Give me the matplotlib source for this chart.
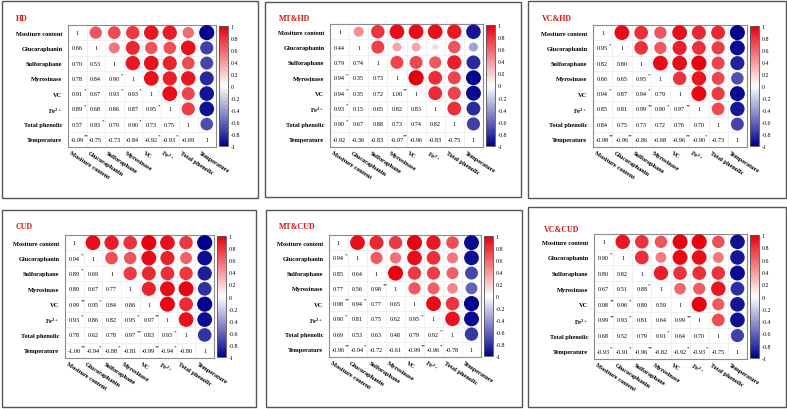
import numpy as np
import matplotlib.pyplot as plt
import matplotlib.cm as cm
from matplotlib.colors import LinearSegmentedColormap, Normalize
from matplotlib.patches import Rectangle

plt.rcParams['font.family'] = ['Liberation Serif', 'DejaVu Serif']
plt.rcParams['mathtext.fontset'] = 'custom'
plt.rcParams['mathtext.rm'] = 'Liberation Serif'
plt.rcParams['mathtext.it'] = 'Liberation Serif:italic'
plt.rcParams['mathtext.bf'] = 'Liberation Serif:bold'

variables = ['Mositure content', 'Glucoraphanin', 'Sulforaphane', 'Myrosinase',
             'VC', 'Fe$^{\\mathbf{2+}}$', 'Total phenolic', 'Temperature']
titles = ['HD', 'MT&HD', 'VC&HD', 'CUD', 'MT&CUD', 'VC&CUD']

# lower triangle, rows 2..8 (row i has i values)
hd_r = [[0.66],
        [0.70, 0.53],
        [0.78, 0.84, 0.90],
        [0.91, 0.67, 0.93, 0.93],
        [0.89, 0.68, 0.86, 0.87, 0.95],
        [0.57, 0.93, 0.70, 0.90, 0.73, 0.75],
        [-0.99, -0.75, -0.73, -0.84, -0.92, -0.93, -0.69]]
hd_sig = [[''],
          ['', ''],
          ['', '', '*'],
          ['*', '', '*', '*'],
          ['*', '', '', '', '*'],
          ['', '*', '', '*', '', ''],
          ['**', '', '', '', '*', '*', '']]

mthd_r = [[0.44],
          [0.79, 0.74],
          [0.94, 0.35, 0.73],
          [0.94, 0.35, 0.72, 1.00],
          [0.93, 0.15, 0.65, 0.82, 0.83],
          [0.90, 0.67, 0.88, 0.73, 0.74, 0.82],
          [-0.92, -0.36, -0.83, -0.97, -0.96, -0.83, -0.75]]
mthd_sig = [[''],
            ['', ''],
            ['*', '', ''],
            ['*', '', '', '**'],
            ['*', '', '', '', ''],
            ['*', '', '', '', '', ''],
            ['', '', '', '**', '', '', '']]

vchd_r = [[0.95],
          [0.82, 0.80],
          [0.66, 0.65, 0.95],
          [0.94, 0.87, 0.94, 0.79],
          [0.85, 0.81, 0.99, 0.90, 0.97],
          [0.84, 0.75, 0.73, 0.72, 0.76, 0.70],
          [-0.98, -0.96, -0.86, -0.68, -0.96, -0.90, -0.73]]
vchd_sig = [['*'],
            ['', ''],
            ['', '', '*'],
            ['*', '', '*', ''],
            ['', '', '**', '*', '**'],
            ['', '', '', '', '', ''],
            ['**', '**', '', '', '**', '*', '']]

cud_r = [[0.94],
         [0.89, 0.69],
         [0.80, 0.67, 0.77],
         [0.99, 0.95, 0.84, 0.86],
         [0.93, 0.86, 0.82, 0.95, 0.97],
         [0.78, 0.62, 0.78, 0.97, 0.83, 0.93],
         [-1.00, -0.94, -0.88, -0.81, -0.99, -0.94, -0.80]]
cud_sig = [['*'],
           ['*', ''],
           ['', '', ''],
           ['**', '*', '', ''],
           ['*', '', '', '*', '**'],
           ['', '', '', '**', '', '*'],
           ['**', '*', '*', '', '**', '*', '']]

mtcud_r = [[0.94],
           [0.85, 0.64],
           [0.77, 0.56, 0.98],
           [0.98, 0.94, 0.77, 0.65],
           [0.90, 0.81, 0.75, 0.62, 0.95],
           [0.69, 0.53, 0.63, 0.48, 0.79, 0.92],
           [-0.96, -0.94, -0.72, -0.61, -0.99, -0.96, -0.78]]
mtcud_sig = [['*'],
             ['', ''],
             ['', '', '**'],
             ['**', '*', '', ''],
             ['*', '', '', '', '*'],
             ['', '', '', '', '', '*'],
             ['**', '*', '', '', '**', '*', '']]

vccud_r = [[0.90],
           [0.80, 0.82],
           [0.67, 0.51, 0.88],
           [0.98, 0.96, 0.80, 0.59],
           [0.99, 0.93, 0.81, 0.64, 0.99],
           [0.68, 0.52, 0.79, 0.91, 0.64, 0.70],
           [-0.93, -0.91, -0.96, -0.82, -0.92, -0.93, -0.75]]
vccud_sig = [['*'],
             ['', ''],
             ['', '', '*'],
             ['**', '*', '', ''],
             ['**', '*', '', '', '**'],
             ['', '', '', '*', '', ''],
             ['*', '*', '**', '', '*', '*', '']]

all_r = [hd_r, mthd_r, vchd_r, cud_r, mtcud_r, vccud_r]
all_sig = [hd_sig, mthd_sig, vchd_sig, cud_sig, mtcud_sig, vccud_sig]

# layout in pixels (left, top, right, bottom)
panel_px = [(2, 2, 258, 199), (265, 3, 521, 198), (528, 2, 786, 199),
            (2, 211, 256, 408), (266, 211, 522, 408), (528, 208, 786, 408)]
matrix_px = [(68, 26, 216, 148), (330, 25, 483, 148), (593, 26, 747, 148),
             (65, 236, 214, 359), (329, 236, 481, 358), (594, 235, 747, 360)]
title_px = [(16, 19), (279, 19), (542, 19), (16, 227), (279, 227), (544, 230)]

W, H = 787, 410
fig = plt.figure(figsize=(W / 100, H / 100), dpi=100)

cmap = LinearSegmentedColormap.from_list('bwr2', ['#00008C', '#FFFFFF', '#E6000C'])
norm = Normalize(-1, 1)


def px_rect(l, t, r, b):
    return [l / W, 1 - b / H, (r - l) / W, (b - t) / H]


def full_matrix(lower):
    n = len(lower) + 1
    m = np.eye(n)
    for i, row in enumerate(lower):
        for j, v in enumerate(row):
            m[i + 1, j] = v
            m[j, i + 1] = v
    return m


for k in range(6):
    l, t, r, b = panel_px[k]
    fig.patches.append(Rectangle((l / W, 1 - b / H), (r - l) / W, (b - t) / H,
                                 transform=fig.transFigure, fill=False,
                                 edgecolor='#555555', linewidth=1.0))
    tx, ty = title_px[k]
    fig.text(tx / W, 1 - ty / H, titles[k], color='#D7191C', fontsize=5.8,
             fontweight='bold', ha='left', va='center')

    m = full_matrix(all_r[k])
    n = m.shape[0]
    ax = fig.add_axes(px_rect(*matrix_px[k]))
    ax.set_xlim(-0.5, n - 0.5)
    ax.set_ylim(n - 0.5, -0.5)
    ax.set_xticks(np.arange(n + 1) - 0.5, minor=True)
    ax.set_yticks(np.arange(n + 1) - 0.5, minor=True)
    ax.grid(which='minor', color='#E6E6E6', linewidth=0.4)
    ax.set_xticks([])
    ax.set_yticks(np.arange(n))
    ax.set_yticklabels(variables, fontsize=4.6, fontweight='bold')
    ax.tick_params(axis='y', length=0, pad=4)
    ax.tick_params(which='minor', length=0)
    for s in ax.spines.values():
        s.set_color('#8C8C8C')
        s.set_linewidth(0.8)

    # upper triangle circles
    xs, ys, vs = [], [], []
    for i in range(n):
        for j in range(i + 1, n):
            xs.append(j)
            ys.append(i)
            vs.append(m[i, j])
    vs = np.array(vs)
    ax.scatter(xs, ys, s=120 * np.abs(vs), c=vs, cmap=cmap, norm=norm,
               linewidths=0, zorder=3)

    # lower triangle numbers
    sig = all_sig[k]
    for i in range(n):
        ax.text(i, i, '1', ha='center', va='center', fontsize=4.5)
        if i == 0:
            continue
        for j in range(i):
            v = m[i, j]
            ax.text(j, i, '%.2f' % v, ha='center', va='center', fontsize=4.5)
            st = sig[i - 1][j]
            if st:
                ax.text(j + 0.33, i - 0.25, st, ha='left', va='center',
                        fontsize=3.6)

    # rotated column labels
    for j in range(n):
        ax.text(j - 0.42, n - 0.5 + 0.3, variables[j], rotation=-33,
                rotation_mode='anchor', ha='left', va='center',
                fontsize=4.6, fontweight='bold')

    # colorbar
    ml, mt, mr, mb = matrix_px[k]
    cax = fig.add_axes(px_rect(mr + 3, mt + 1, mr + 12, mb - 1))
    cb = fig.colorbar(cm.ScalarMappable(norm=norm, cmap=cmap), cax=cax,
                      ticks=np.linspace(-1, 1, 11))
    cb.ax.set_yticklabels(['-1', '-0.8', '-0.6', '-0.4', '-0.2', '0',
                           '0.2', '0.4', '0.6', '0.8', '1'])
    cb.ax.tick_params(labelsize=4.2, length=0, pad=2)
    cb.outline.set_linewidth(0.6)
    cb.outline.set_edgecolor('#555555')

fig.savefig('out.png', dpi=100)
